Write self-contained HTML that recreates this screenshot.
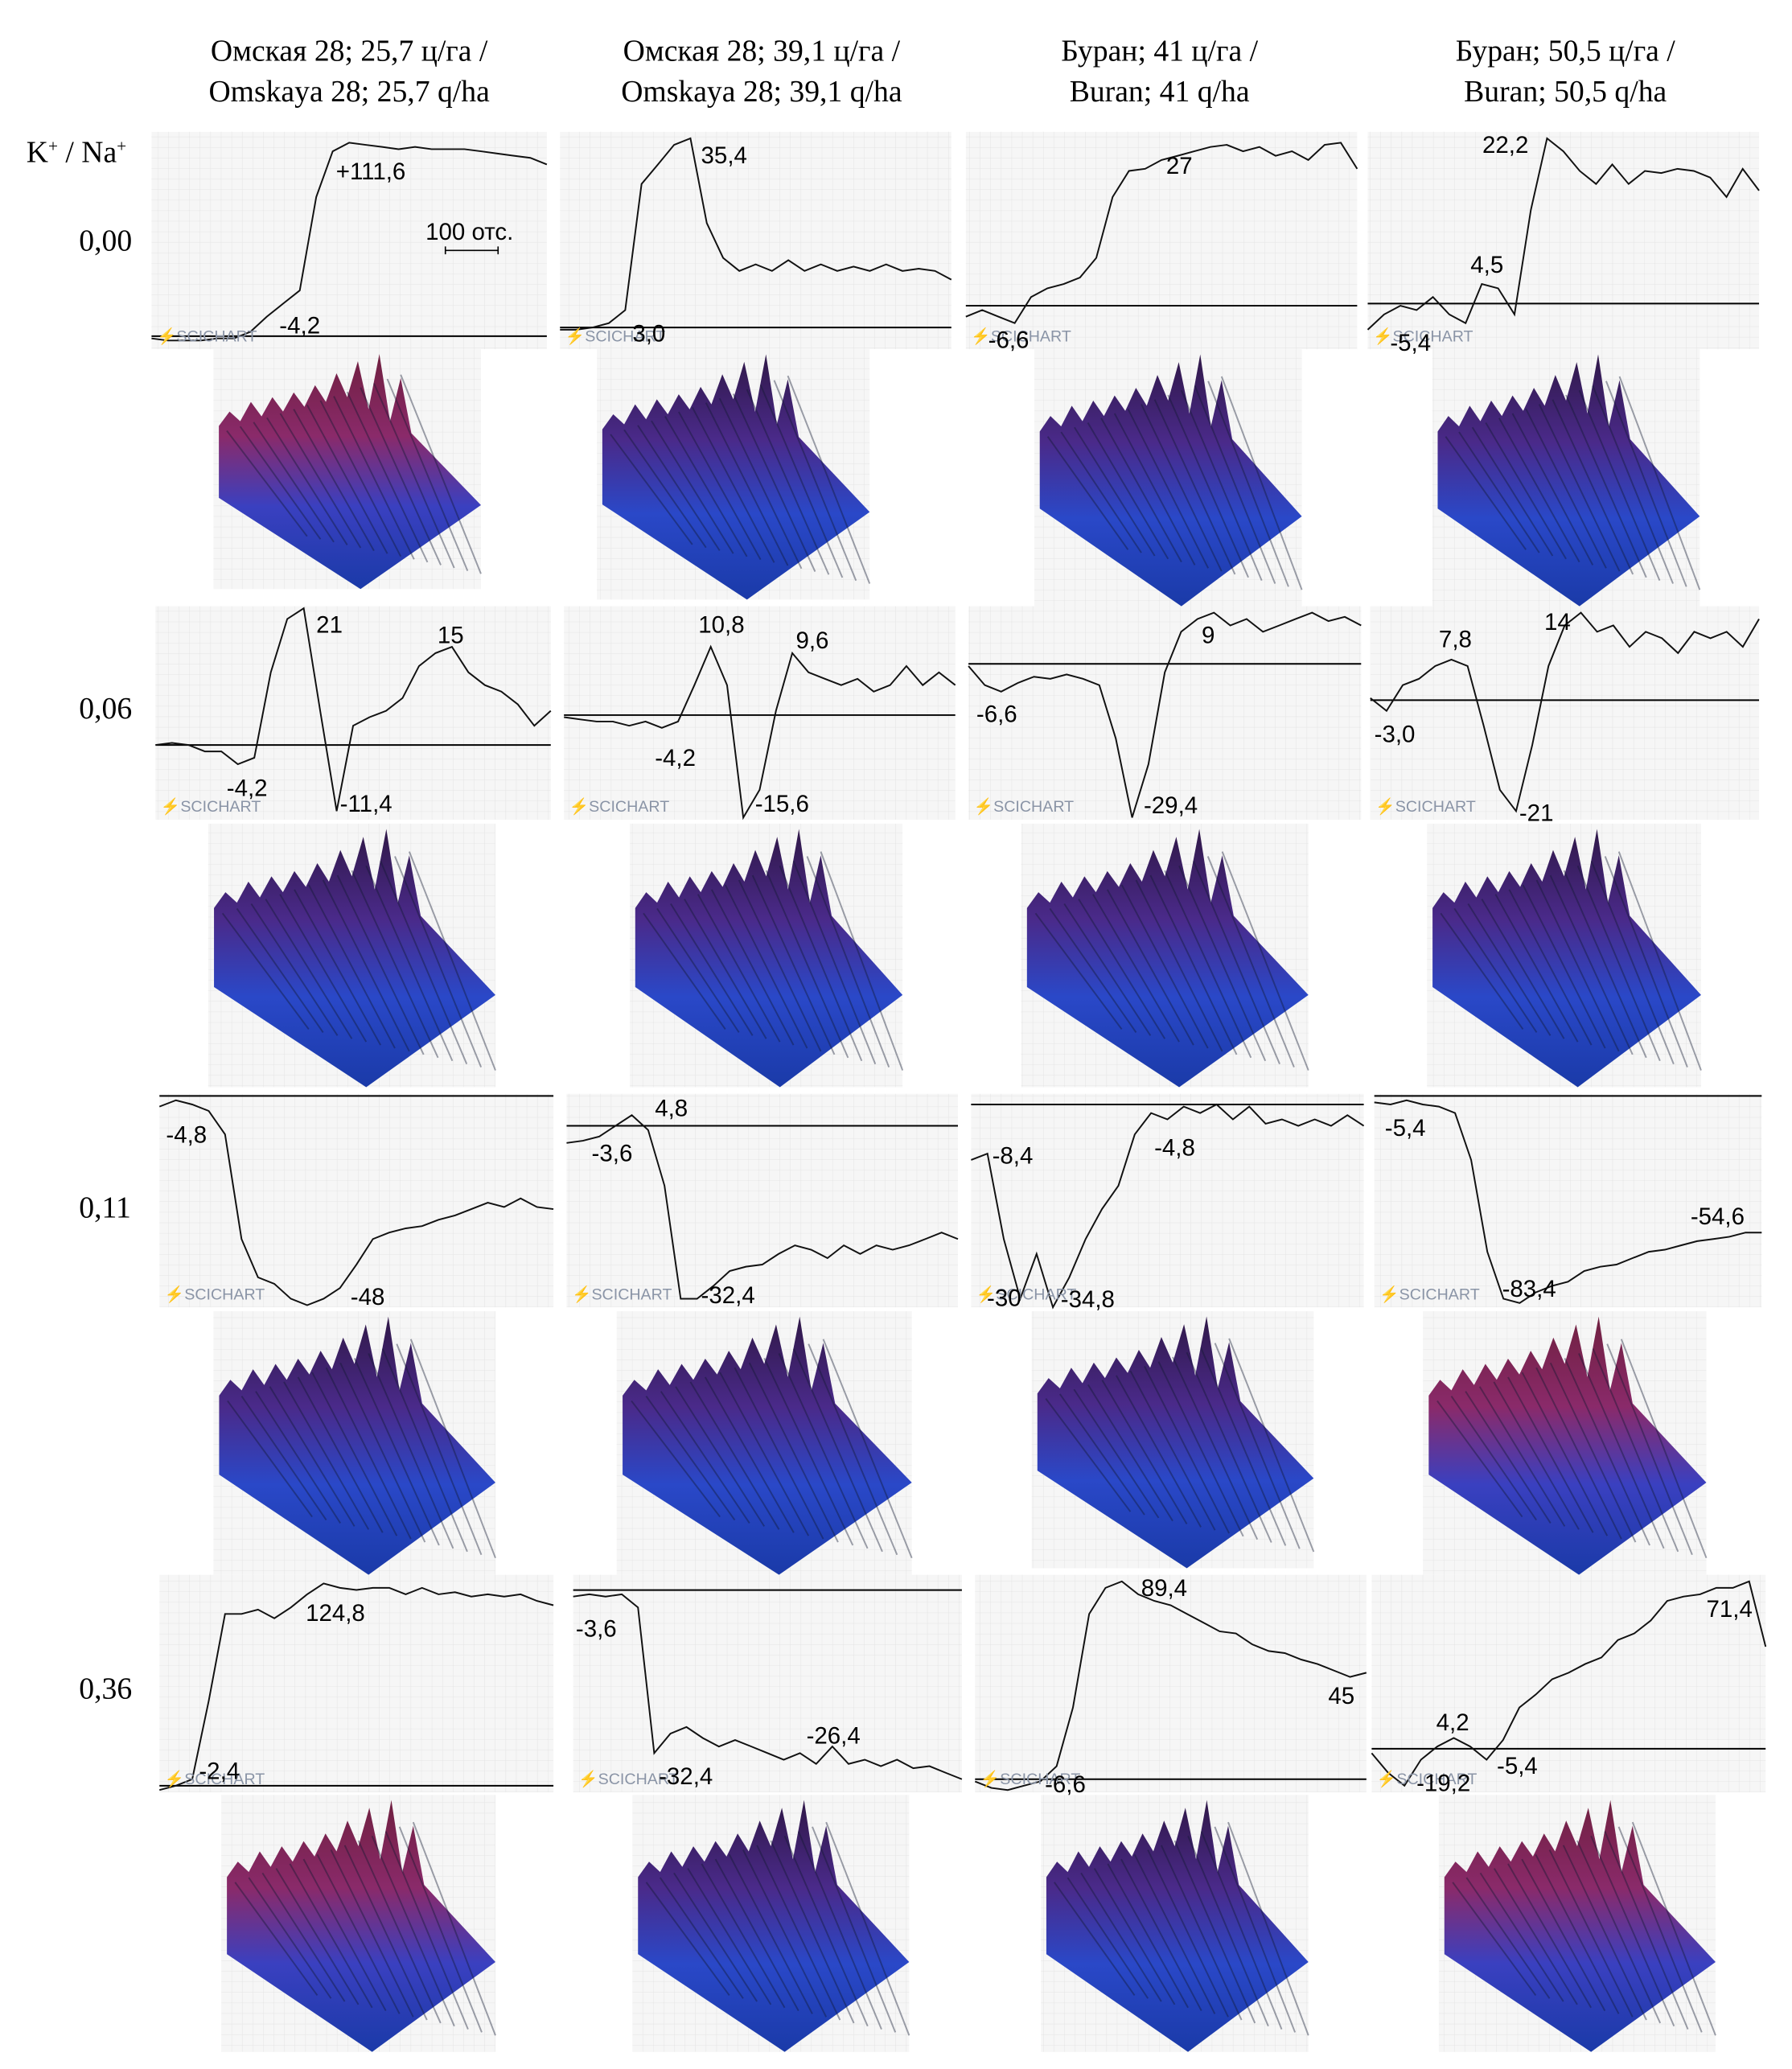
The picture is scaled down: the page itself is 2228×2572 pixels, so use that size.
<!DOCTYPE html>
<html><head><meta charset="utf-8">
<style>
html,body{margin:0;padding:0;background:#fff;}
svg{display:block;}
.t{font-family:"Liberation Serif","Noto Serif CJK SC",serif;font-size:23px;fill:#000;}
.a{font-family:"Liberation Sans","Noto Sans CJK SC",sans-serif;font-size:18px;fill:#000;}
.w{font-family:"Liberation Sans",sans-serif;font-size:12px;fill:#8a94a6;}
</style></head>
<body>
<svg id="root" width="2228" height="2572" viewBox="0 0 1360 1570" xmlns="http://www.w3.org/2000/svg">
<defs>
<pattern id="grid" width="8" height="8" patternUnits="userSpaceOnUse"><rect width="8" height="8" fill="#f6f6f6"/><path d="M8 0V8H0" fill="none" stroke="#e4e4e4" stroke-width="0.6"/></pattern>
<linearGradient id="surf" x1="0" y1="0" x2="0" y2="1"><stop offset="0" stop-color="#301848"/><stop offset="0.35" stop-color="#4a2a8a"/><stop offset="0.65" stop-color="#2a48c8"/><stop offset="1" stop-color="#1a3aa8"/></linearGradient>
<linearGradient id="surfR" x1="0" y1="0" x2="0" y2="1"><stop offset="0" stop-color="#702040"/><stop offset="0.35" stop-color="#8a2a6a"/><stop offset="0.65" stop-color="#3a40c0"/><stop offset="1" stop-color="#1a3aa8"/></linearGradient>
</defs>
<g>
<text class="t" x="265" y="46" text-anchor="middle">Омская 28; 25,7 ц/га /</text>
<text class="t" x="265" y="77" text-anchor="middle">Omskaya 28; 25,7 q/ha</text>
<text class="t" x="578" y="46" text-anchor="middle">Омская 28; 39,1 ц/га /</text>
<text class="t" x="578" y="77" text-anchor="middle">Omskaya 28; 39,1 q/ha</text>
<text class="t" x="880" y="46" text-anchor="middle">Буран; 41 ц/га /</text>
<text class="t" x="880" y="77" text-anchor="middle">Buran; 41 q/ha</text>
<text class="t" x="1188" y="46" text-anchor="middle">Буран; 50,5 ц/га /</text>
<text class="t" x="1188" y="77" text-anchor="middle">Buran; 50,5 q/ha</text>
</g>
<g>
<text class="t" x="20" y="123">K<tspan font-size="13" dy="-8">+</tspan><tspan dy="8"> / Na</tspan><tspan font-size="13" dy="-8">+</tspan></text>
<text class="t" x="60" y="190">0,00</text>
<text class="t" x="60" y="545">0,06</text>
<text class="t" x="60" y="924">0,11</text>
<text class="t" x="60" y="1289">0,36</text>
</g>
<g id="charts"></g>
</svg>
<script>
// trace values (0 = bottom, 100 = top of each panel), 25 samples evenly across width
const traceR1C1=[5,4,4,4,5,5,8,15,21,27,70,91,95,94,93,92,93,92,92,92,91,90,89,88,85];
const traceR1C2=[9,9,10,12,18,76,85,94,97,58,42,36,39,36,41,36,39,36,38,36,39,36,37,36,32];
const traceR1C3=[15,18,15,12,24,28,30,33,42,70,82,83,87,89,91,93,94,91,93,89,91,87,94,95,83];
const traceR1C4=[9,16,20,18,24,16,12,30,28,16,64,97,91,82,76,85,76,82,81,83,82,79,70,83,73];
const traceR2C1=[35,36,35,32,32,26,29,69,94,99,51,4,44,48,51,57,72,78,81,69,63,60,54,44,51];
const traceR2C2=[48,47,46,46,44,46,43,46,63,81,63,1,14,51,78,69,66,63,66,60,63,72,63,69,63];
const traceR2C3=[72,63,60,64,67,66,68,66,63,38,1,26,69,88,94,97,91,94,88,91,94,97,93,95,91];
const traceR2C4=[57,51,63,66,72,75,72,44,14,4,35,72,91,97,88,91,81,88,85,78,88,85,88,81,94];
const traceR3C1=[94,97,95,92,81,32,14,11,4,1,4,9,20,32,35,37,38,41,43,46,49,47,51,47,46];
const traceR3C2=[77,78,80,85,90,83,57,4,4,10,17,19,20,25,29,27,23,29,25,29,27,29,32,35,32];
const traceR3C3=[69,72,32,4,25,0,14,32,46,57,81,91,88,94,91,95,88,94,86,88,85,88,85,90,85];
const traceR3C4=[96,95,97,95,94,91,69,26,4,2,7,10,12,17,19,20,23,26,27,29,31,32,33,35,35];
const traceR4C1=[1,3,6,42,82,82,84,80,85,91,96,94,93,94,94,91,94,91,92,90,91,90,91,88,86];
const traceR4C2=[90,91,90,91,85,18,27,30,25,21,24,21,18,15,18,13,21,13,15,12,15,11,12,9,6];
const traceR4C3=[5,2,1,3,5,12,39,82,94,97,91,88,86,82,78,74,73,68,65,64,61,59,56,53,55];
const traceR4C4=[18,9,3,15,21,25,21,15,24,39,45,52,55,59,62,70,73,79,88,90,91,94,94,97,67];
const baselines=[6,10,20,21,35,49,73,56,99,85,95,99,3,93,6,20];
const traces=[traceR1C1,traceR1C2,traceR1C3,traceR1C4,traceR2C1,traceR2C2,traceR2C3,traceR2C4,traceR3C1,traceR3C2,traceR3C3,traceR3C4,traceR4C1,traceR4C2,traceR4C3,traceR4C4];
const annotations=[
 [["+111,6",255,136],["100 отс.",323,182],["-4,2",212,253]],
 [["35,4",532,124],["3,0",480,259]],
 [["27",885,132],["-6,6",750,264]],
 [["22,2",1125,116],["4,5",1116,207],["-5,4",1055,266]],
 [["21",240,480],["15",332,488],["-4,2",172,604],["-11,4",258,616]],
 [["10,8",530,480],["9,6",604,492],["-4,2",497,581],["-15,6",573,616]],
 [["9",912,488],["-6,6",741,548],["-29,4",868,617]],
 [["7,8",1092,491],["14",1172,478],["-3,0",1043,563],["-21",1153,623]],
 [["-4,8",126,867],["-48",266,990]],
 [["4,8",497,847],["-3,6",449,881],["-32,4",532,989]],
 [["-8,4",753,883],["-4,8",876,877],["-30",749,991],["-34,8",805,992]],
 [["-5,4",1051,862],["-54,6",1283,929],["-83,4",1140,984]],
 [["124,8",232,1230],["-2,4",151,1350]],
 [["-3,6",437,1242],["-26,4",612,1323],["-32,4",500,1354]],
 [["89,4",866,1211],["45",1008,1293],["-6,6",793,1360]],
 [["71,4",1295,1227],["4,2",1090,1313],["-5,4",1136,1346],["-19,2",1075,1359]]
];
const panels=[
 [115,100,300,165],[425,100,297,165],[733,100,297,165],[1038,100,297,165],
 [118,460,300,162],[428,460,297,162],[735,460,298,162],[1040,460,295,162],
 [121,830,299,162],[430,830,297,162],[737,830,298,162],[1043,830,294,162],
 [121,1195,299,165],[435,1195,295,165],[740,1195,297,165],[1041,1195,299,165]];
const surfaces=[
 [162,265,203,182,1],[453,265,207,190,0],[785,265,203,195,0],[1087,265,203,195,0],
 [158,625,218,200,0],[478,625,207,200,0],[775,625,218,200,0],[1083,625,208,200,0],
 [162,995,214,200,0],[468,995,224,200,0],[783,995,214,195,0],[1080,995,215,200,1],
 [168,1362,208,195,1],[480,1362,210,195,0],[790,1362,203,195,0],[1092,1362,210,195,1]];
const ridge=[0.32,0.26,0.3,0.22,0.28,0.2,0.26,0.18,0.24,0.15,0.22,0.1,0.2,0.05,0.25,0.02,0.3,0.12,0.35];
const NS="http://www.w3.org/2000/svg";
const root=document.getElementById('charts');
function mk(tag,attrs,parent){const e=document.createElementNS(NS,tag);for(const k in attrs)e.setAttribute(k,attrs[k]);parent.appendChild(e);return e;}
panels.forEach((p,i)=>{
 const [x,y,w,h]=p;
 const g=mk('g',{},root);
 
 
 const bg=mk('rect',{x:x,y:y,width:w,height:h,fill:'url(#grid)'},g);
 
 
 const sx=k=>x+k*w/(traces[i].length-1);
 const sy=v=>y+h-v/100*h;
 const bl=mk('line',{x1:x,x2:x+w,y1:sy(baselines[i]),y2:sy(baselines[i]),stroke:'#000','stroke-width':1.2},g);
 
 
 let pts=traces[i].map((v,k)=>sx(k).toFixed(1)+','+sy(v).toFixed(1)).join(' ');
 const pl=mk('polyline',{points:pts,fill:'none',stroke:'#111','stroke-width':1.2},g);
 
 
 const wm=mk('text',{x:x+4,y:y+h-6,class:'w'},g);wm.textContent='⚡SCICHART';
 
 
 annotations[i].forEach(a=>{const t=mk('text',{x:a[1],y:a[2],class:'a'},g);t.textContent=a[0];
  
  });
 if(i===0){mk('path',{d:'M338 187V193M338 190H378M378 187V193',stroke:'#000',fill:'none'},g);}
});
surfaces.forEach((s,i)=>{
 const [x,y,w,h,red]=s;
 const g=mk('g',{},root);
 
 
 mk('rect',{x:x,y:y,width:w,height:h,fill:'url(#grid)'},g);
 const P=(u,v)=>(x+u*w).toFixed(1)+','+(y+v*h).toFixed(1);
 const top=ridge.map((v,k)=>[0.02+k*0.04,v]);
 const poly=top.concat([[1,0.65],[0.55,1],[0.02,0.62]]).map(q=>P(q[0],q[1])).join(' ');
 const sf=mk('polygon',{points:poly,fill:red?'url(#surfR)':'url(#surf)'},g);
 
 
 for(let k=0;k<14;k++){const u=0.05+k*0.05;
  mk('line',{x1:(x+u*w),y1:(y+(0.34-k*0.018)*h),x2:(x+(u+0.3)*w),y2:(y+(0.78+k*0.012)*h),stroke:'#101830','stroke-width':1.2,opacity:0.4},g);}
});
</script>
</body></html>
